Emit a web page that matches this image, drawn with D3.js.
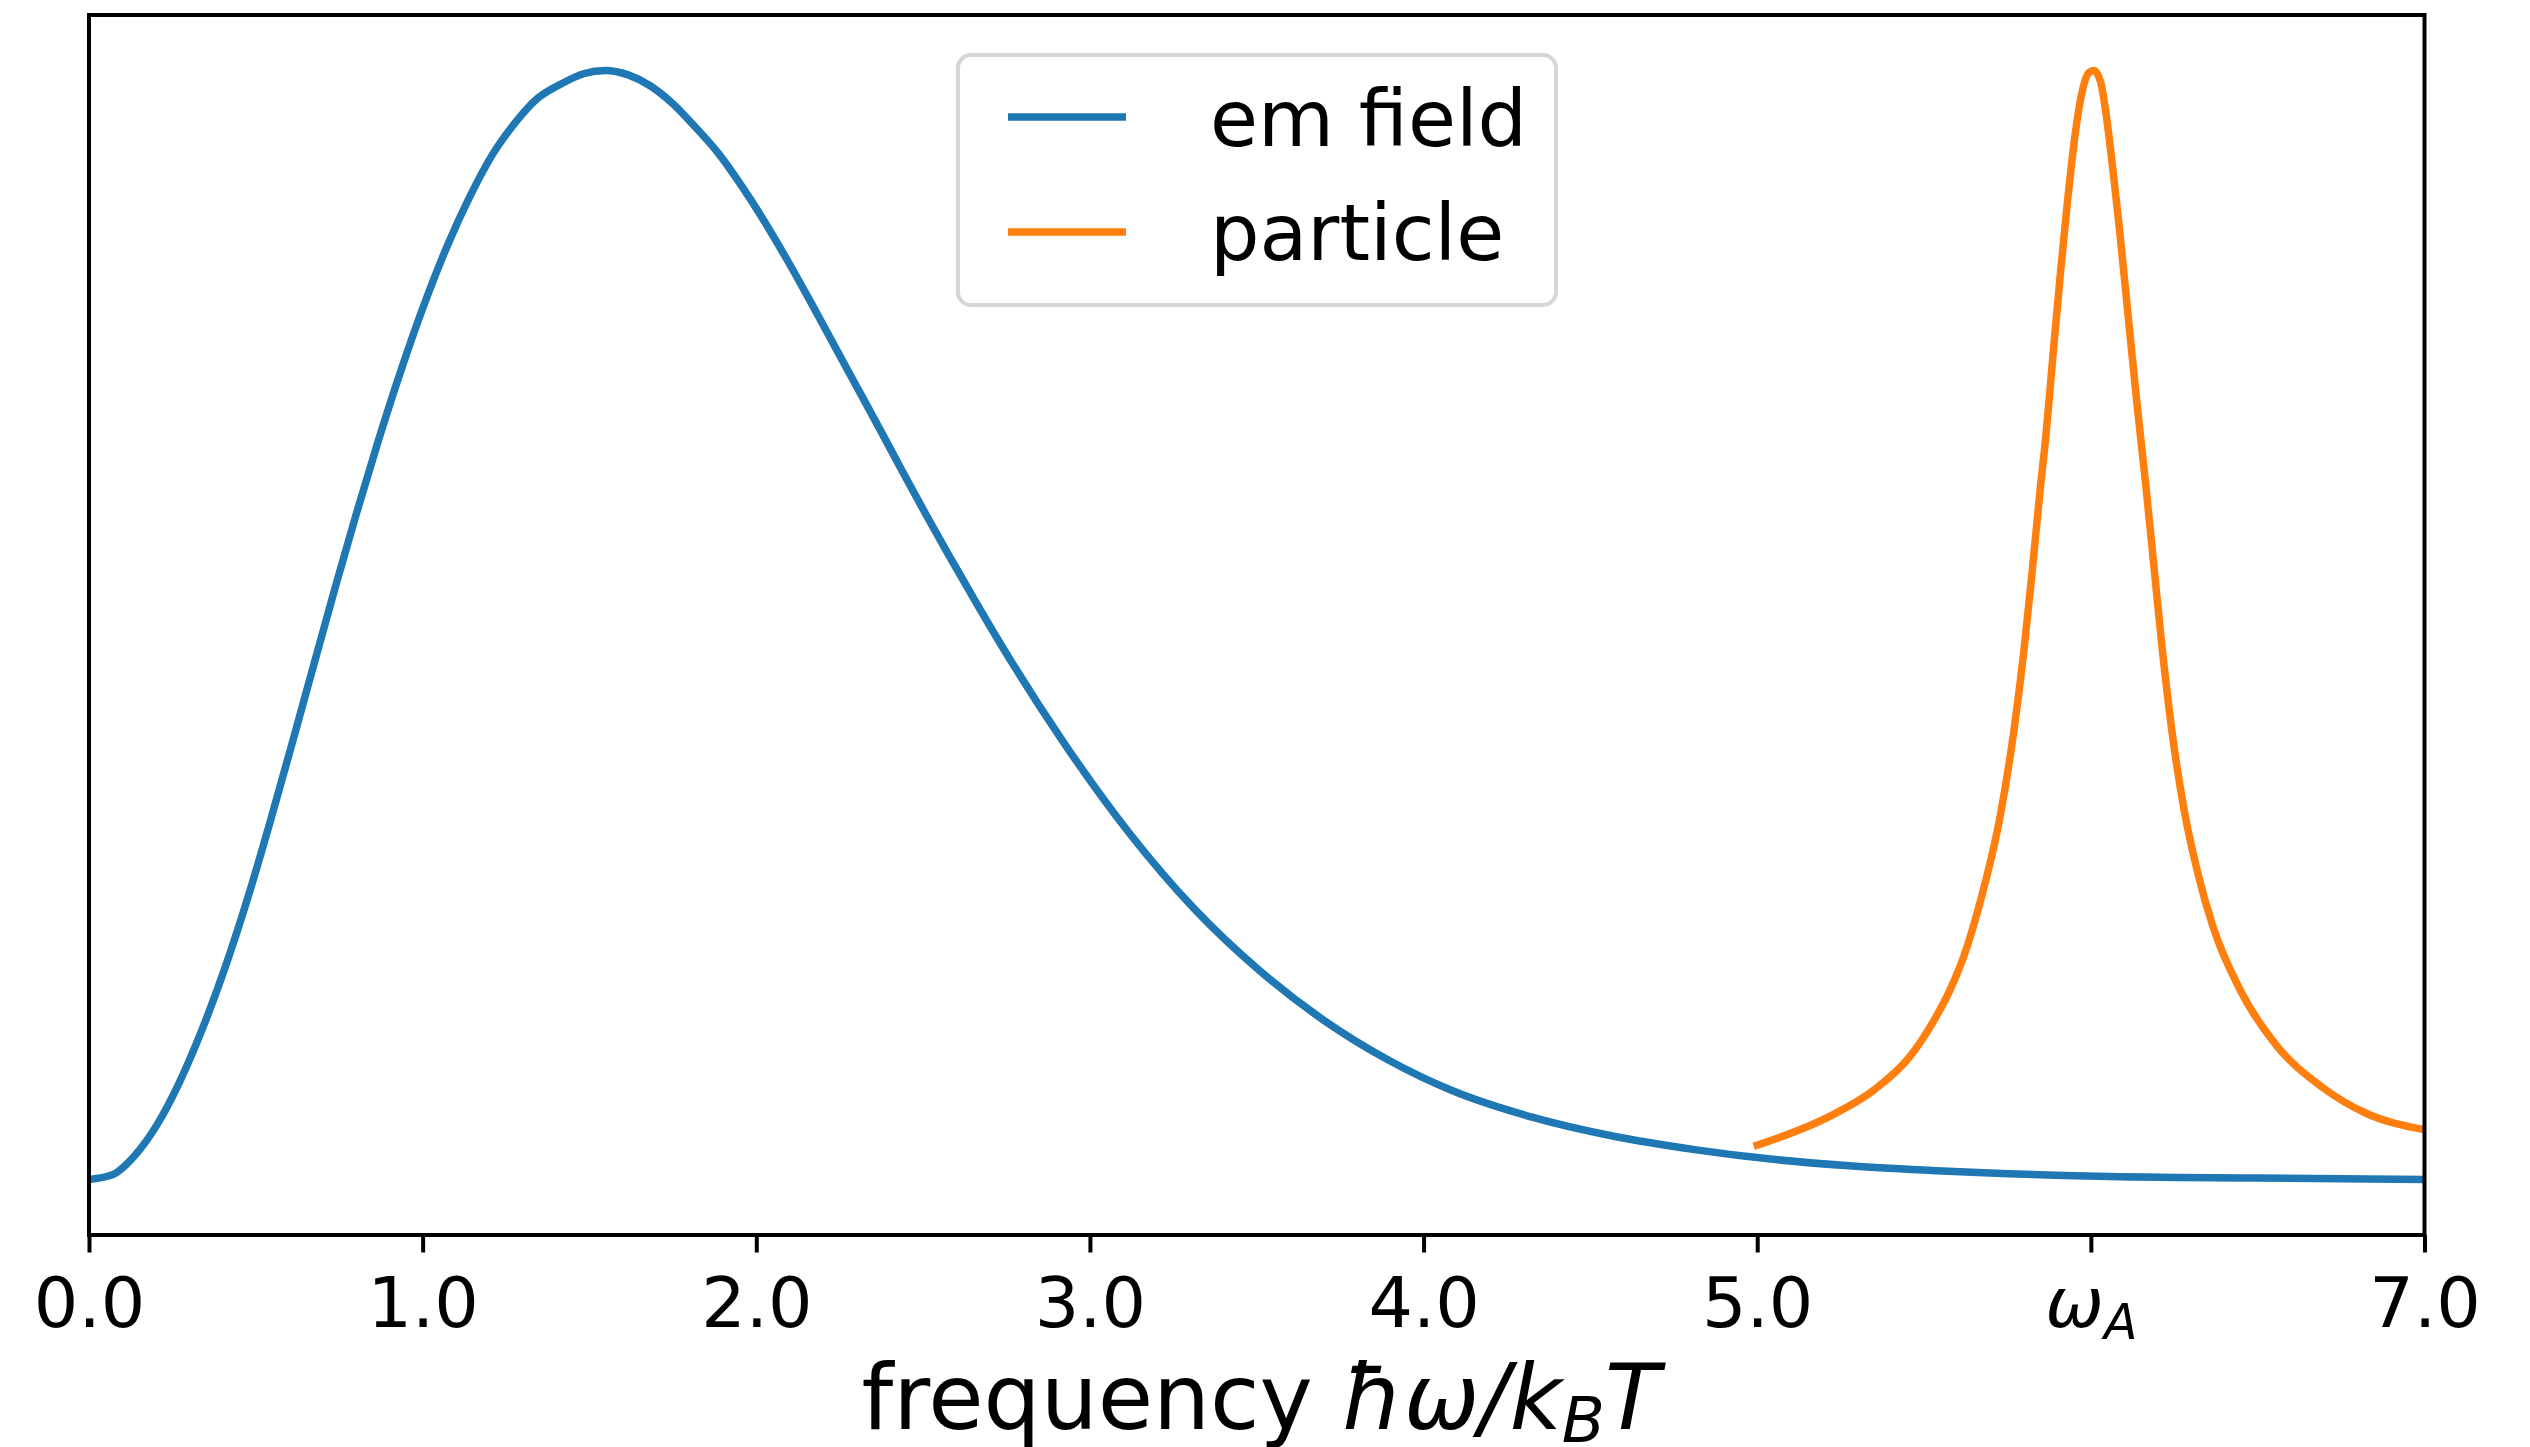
<!DOCTYPE html>
<html>
<head>
<meta charset="utf-8">
<script src="https://cdn.jsdelivr.net/npm/d3@7"></script>
<style>
  html, body { margin: 0; padding: 0; background: #fff; }
  svg { display: block; font-family: "DejaVu Sans", sans-serif; }
</style>
</head>
<body>
<svg id="chart" width="2530" height="1447"></svg>
<script>
// ---------------- data ----------------
const emX = [0.000,0.068,0.138,0.205,0.270,0.340,0.410,0.480,0.548,0.615,0.680,0.740,0.800,0.867,0.940,1.007,1.074,1.141,1.211,1.275,1.345,1.416,1.482,1.548,1.616,1.683,1.750,1.817,1.887,1.958,2.018,2.091,2.158,2.232,2.299,2.373,2.439,2.506,2.573,2.640,2.720,2.926,3.119,3.313,3.506,3.699,3.893,4.087,4.328,4.570,4.812,5.054,5.296,5.538,6.021,6.505,7.000];
const emY = [0.000,0.004,0.022,0.050,0.087,0.136,0.193,0.258,0.328,0.400,0.471,0.536,0.599,0.666,0.734,0.791,0.842,0.886,0.925,0.952,0.975,0.988,0.997,1.000,0.996,0.986,0.970,0.949,0.925,0.895,0.867,0.830,0.794,0.753,0.716,0.675,0.638,0.601,0.565,0.530,0.489,0.392,0.312,0.244,0.189,0.144,0.108,0.080,0.056,0.039,0.027,0.018,0.012,0.008,0.003,0.0013,0.000];

const partX = [5.000,5.217,5.351,5.458,5.525,5.578,5.619,5.668,5.729,5.769,5.799,5.824,5.849,5.864,5.874,5.889,5.909,5.929,5.954,5.974,5.994,6.009,6.029,6.044,6.064,6.084,6.109,6.137,6.164,6.189,6.214,6.244,6.279,6.320,6.366,6.449,6.556,6.690,6.823,7.000];
const partY = [0.031,0.057,0.081,0.111,0.141,0.171,0.201,0.250,0.329,0.404,0.476,0.548,0.625,0.667,0.700,0.752,0.818,0.879,0.945,0.981,0.998,1.000,0.990,0.964,0.916,0.862,0.787,0.703,0.628,0.553,0.478,0.402,0.334,0.277,0.228,0.170,0.121,0.084,0.060,0.045];

const tickValues = [0, 1, 2, 3, 4, 5, 6, 7];
const tickLabels = ["0.0", "1.0", "2.0", "3.0", "4.0", "5.0", "ωA", "7.0"];
const seriesNames = ["em field", "particle"];
const seriesColors = ["#1f77b4", "#ff7f0e"];

// ---------------- layout ----------------
const L = 89, R = 2424.5, T = 15, B = 1235;
const svg = d3.select("#chart");

const x = d3.scaleLinear().domain([0, 7]).range([L, R]);
const y = d3.scaleLinear().domain([-0.05, 1.05]).range([B, T]);

svg.append("defs").append("clipPath").attr("id", "plotclip")
  .append("rect").attr("x", L).attr("y", T).attr("width", R - L).attr("height", B - T);

const line = d3.line().x(d => x(d[0])).y(d => y(d[1])).curve(d3.curveMonotoneX);

const series = [
  d3.zip(emX, emY),
  d3.zip(partX, partY)
];

const gLines = svg.append("g").attr("clip-path", "url(#plotclip)");
series.forEach((s, i) => {
  gLines.append("path")
    .datum(s)
    .attr("d", line)
    .attr("fill", "none")
    .attr("stroke", seriesColors[i])
    .attr("stroke-width", 7.5)
    .attr("stroke-linecap", "square")
    .attr("stroke-linejoin", "round");
});

// spines
svg.append("rect")
  .attr("x", L).attr("y", T).attr("width", R - L).attr("height", B - T)
  .attr("fill", "none").attr("stroke", "#000").attr("stroke-width", 4)
  .attr("stroke-linejoin", "miter");

// x axis
const xAxis = d3.axisBottom(x)
  .tickValues(tickValues)
  .tickSizeInner(17.5)
  .tickSizeOuter(0)
  .tickFormat((d, i) => tickLabels[i]);

const gx = svg.append("g").attr("transform", `translate(0,${B})`).call(xAxis);
gx.select(".domain").remove();
gx.selectAll(".tick line").attr("stroke", "#000").attr("stroke-width", 4);
gx.selectAll(".tick text")
  .attr("fill", "#000")
  .attr("y", 92)
  .attr("dy", null)
  .style("font-family", "DejaVu Sans")
  .style("font-size", "70px")
  .each(function (d, i) {
    if (tickLabels[i] === "ωA") {
      const t = d3.select(this);
      t.text(null);
      t.append("tspan").attr("font-style", "italic").text("ω");
      t.append("tspan").attr("font-style", "italic").attr("font-size", "49px").attr("dy", 12).text("A");
    }
  });

// x label
const xl = svg.append("text")
  .attr("x", (L + R) / 2 + 4)
  .attr("y", 1429)
  .attr("text-anchor", "middle")
  .style("font-size", "90px")
  .attr("fill", "#000");
xl.append("tspan").text("frequency ");
xl.append("tspan").attr("font-style", "italic").text("ħω/k");
xl.append("tspan").attr("font-style", "italic").attr("font-size", "63px").attr("dy", 13).text("B");
xl.append("tspan").attr("font-style", "italic").attr("dy", -13).text("T");

// legend
const leg = svg.append("g");
leg.append("rect")
  .attr("x", 958).attr("y", 55).attr("width", 598).attr("height", 250)
  .attr("rx", 13).attr("ry", 13)
  .attr("fill", "#fff").attr("fill-opacity", 0.8)
  .attr("stroke", "#d6d6d6").attr("stroke-width", 4);
const legRows = [117, 232];
const legTextY = [146, 260];
seriesNames.forEach((name, i) => {
  leg.append("line")
    .attr("x1", 1008).attr("x2", 1126)
    .attr("y1", legRows[i]).attr("y2", legRows[i])
    .attr("stroke", seriesColors[i]).attr("stroke-width", 7.5)
    .attr("stroke-linecap", "butt");
  leg.append("text")
    .attr("x", 1210).attr("y", legTextY[i])
    .style("font-size", "78px")
    .attr("fill", "#000")
    .text(name);
});
</script>
</body>
</html>
